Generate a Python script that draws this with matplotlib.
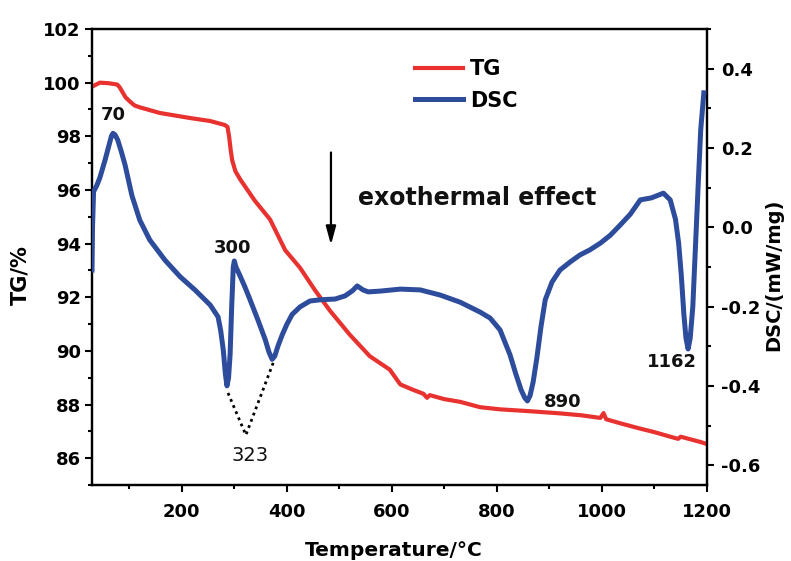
import matplotlib
matplotlib.use('Agg')
import matplotlib.pyplot as plt
from matplotlib.ticker import MultipleLocator

# ========== Font Settings ==========
plt.rcParams['font.family'] = ['DejaVu Sans']
plt.rcParams['font.weight'] = 'bold'
plt.rcParams['axes.labelweight'] = 'bold'

# ========== Data ==========
tg_temp = [31, 44, 60, 77, 82, 87, 93, 101, 110, 120, 158, 216, 254, 282,
           287, 290, 293, 296, 302, 311, 339, 368, 397, 425, 454, 482, 520,
           558, 596, 616, 640, 660, 667, 672, 700, 730, 768, 806, 863, 920,
           960, 997, 1003, 1008, 1035, 1073, 1100, 1130, 1145, 1150, 1188, 1196]
tg_vals = [99.87, 100.0, 99.98, 99.93, 99.82, 99.65, 99.45, 99.3, 99.15, 99.08,
           98.87, 98.68, 98.57, 98.42, 98.35, 98.0, 97.5, 97.1, 96.7, 96.4,
           95.6, 94.9, 93.75, 93.1, 92.25, 91.5, 90.6, 89.8, 89.3, 88.75,
           88.55, 88.4, 88.25, 88.35, 88.2, 88.1, 87.9, 87.82, 87.75, 87.67,
           87.6, 87.5, 87.68, 87.45, 87.3, 87.1, 86.97, 86.8, 86.72, 86.8,
           86.6, 86.55]

dsc_temp = [29, 30, 32, 38, 44, 54, 60, 66, 69, 73, 78, 85, 92, 105, 120,
            139, 168, 197, 225, 254, 269, 274, 279, 283, 286, 289, 292, 295,
            298, 300, 303, 310, 320, 330, 345, 359, 366, 372, 377, 383, 391,
            400, 410, 425, 444, 463, 492, 511, 525, 534, 545, 555, 578, 616,
            654, 692, 730, 768, 787, 806, 825, 836, 846, 853, 858, 863, 869,
            876, 884, 892, 905, 920, 939, 958, 977, 997, 1016, 1035, 1054,
            1073, 1094, 1117, 1130, 1140, 1146, 1151, 1156, 1160, 1164, 1168,
            1173, 1178, 1183, 1188, 1194]
dsc_vals = [-0.108, 0.0, 0.09, 0.105, 0.125, 0.17, 0.20, 0.23, 0.237, 0.233,
            0.22, 0.19, 0.157, 0.08, 0.018, -0.032, -0.083, -0.125, -0.158,
            -0.196, -0.226, -0.26, -0.31, -0.37, -0.40, -0.38, -0.32, -0.20,
            -0.10, -0.085, -0.10, -0.12, -0.15, -0.183, -0.234, -0.284, -0.315,
            -0.333, -0.325, -0.30, -0.272, -0.245, -0.22, -0.201, -0.186,
            -0.183, -0.181, -0.173, -0.16, -0.148, -0.158, -0.163, -0.161,
            -0.156, -0.158, -0.171, -0.189, -0.214, -0.229, -0.259, -0.322,
            -0.37, -0.41, -0.43, -0.438, -0.425, -0.39, -0.33, -0.25, -0.183,
            -0.138, -0.108, -0.088, -0.07, -0.057, -0.04, -0.02, 0.006, 0.033,
            0.069, 0.074, 0.086, 0.069, 0.02, -0.04, -0.12, -0.22, -0.28,
            -0.307, -0.28, -0.20, -0.05, 0.10, 0.245, 0.339]

# dotted construction line under the 300 C double peak
dot_temp = [288, 322, 374]
dot_vals = [-0.418, -0.524, -0.342]

# peak labels: (text, temperature, TG-axis height, weight, size)
peak_labels = [('70', 69, 98.8, 'bold', 13),
               ('300', 296, 93.85, 'bold', 13),
               ('323', 330, 86.1, 'normal', 14),
               ('890', 926, 88.1, 'bold', 13),
               ('1162', 1134, 89.57, 'bold', 13)]

RED = '#E8322F'
BLUE = '#2E4C9C'

# ========== Figure ==========
fig = plt.figure(figsize=(7.91, 5.61), dpi=100)
ax = fig.add_axes([0.1163, 0.1355, 0.7775, 0.8128])
ax2 = ax.twinx()

l1, = ax.plot(tg_temp, tg_vals, color=RED, lw=3.0, label='TG', zorder=3)
l2, = ax2.plot(dsc_temp, dsc_vals, color=BLUE, lw=3.6, label='DSC', zorder=3)
ax2.plot(dot_temp, dot_vals, color='black', lw=2.0, ls=(0, (1, 1.4)))

ax.set_xlim(29, 1200)
ax.set_ylim(85, 102)
ax2.set_ylim(-0.65, 0.5)

ax.xaxis.set_major_locator(MultipleLocator(200))
ax.xaxis.set_minor_locator(MultipleLocator(100))
ax.yaxis.set_major_locator(MultipleLocator(2))
ax.yaxis.set_minor_locator(MultipleLocator(1))
ax2.set_yticks([0.4, 0.2, 0.0, -0.2, -0.4, -0.6])
ax2.set_yticklabels(['0.4', '0.2', '0.0', '-0.2', '-0.4', '-0.6'])
ax2.yaxis.set_minor_locator(MultipleLocator(0.1))

for a in (ax, ax2):
    a.tick_params(which='major', direction='out', length=5, width=1.5,
                  labelsize=13, pad=3)
    a.tick_params(which='minor', direction='out', length=3, width=1.5)
    for s in a.spines.values():
        s.set_linewidth(1.6)
ax.tick_params(axis='x', which='both', top=False)
ax.tick_params(axis='x', which='major', pad=8)
ax2.tick_params(axis='y', which='major', pad=5)

ax.set_xlabel('Temperature/\u00b0C', fontsize=14.5, fontweight='bold')
ax.set_ylabel('TG/%', fontsize=15, fontweight='bold')
ax2.set_ylabel('DSC/(mW/mg)', fontsize=14, fontweight='bold')
ax.xaxis.set_label_coords(0.49, -0.123)
ax.yaxis.set_label_coords(-0.10, 0.46)
ax2.yaxis.set_label_coords(1.093, 0.46)

for txt, t, v, w, fs in peak_labels:
    ax.text(t, v, txt, ha='center', va='center', fontsize=fs,
            fontweight=w, color='#111111')

ax.text(762, 95.7, 'exothermal effect', ha='center', va='center',
        fontsize=17, fontweight='bold', color='#111111')
ax.annotate('', xy=(484, 93.85), xytext=(484, 97.5),
            arrowprops=dict(arrowstyle='-|>,head_length=1.1,head_width=0.3',
                            lw=1.6, color='black'))

leg = ax.legend(handles=[l1, l2], loc='upper left',
                bbox_to_anchor=(0.525, 0.934), frameon=False, fontsize=15,
                handlelength=2.3, handletextpad=0.35, labelspacing=0.55,
                borderaxespad=0, borderpad=0)

fig.savefig('out.png', dpi=100)
